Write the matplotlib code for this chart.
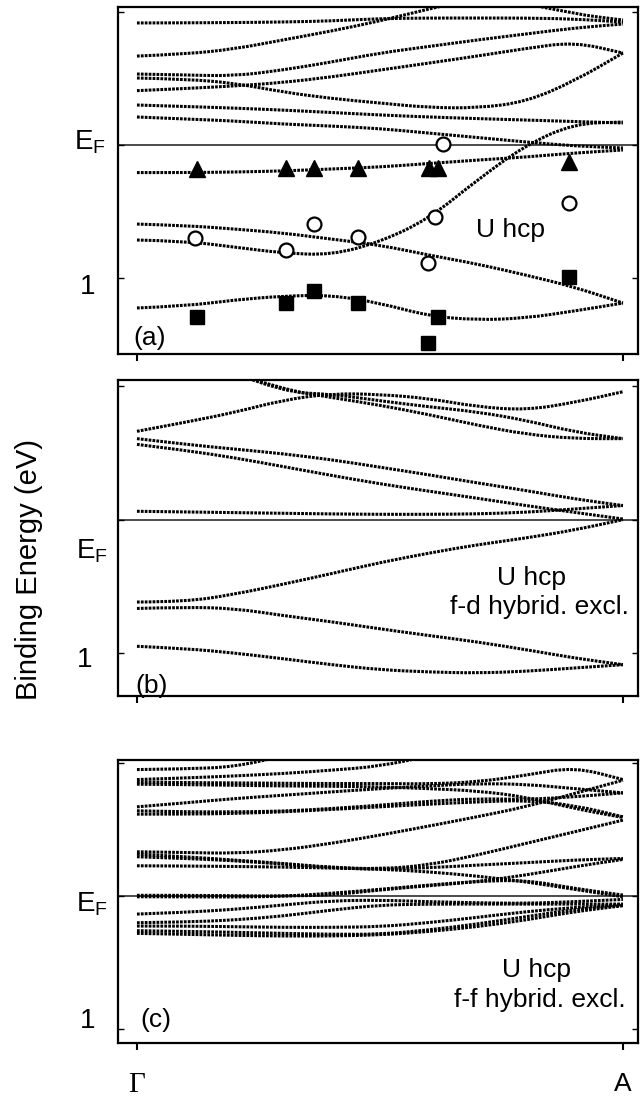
import numpy as np
import matplotlib
matplotlib.use('Agg')
import matplotlib.pyplot as plt
from matplotlib.path import Path
from matplotlib.patches import PathPatch

plt.rcParams['font.family'] = ['Liberation Sans', 'DejaVu Sans']
plt.rcParams['mathtext.fontset'] = 'custom'
plt.rcParams['mathtext.rm'] = 'Liberation Sans'

nan = float('nan')

# k-path from Gamma (0) to A (1)
K = [0.0, 0.1, 0.2, 0.3, 0.4, 0.5, 0.6, 0.7, 0.8, 0.9, 1.0]

# binding energies (eV, relative to E_F; positive = below E_F)
BANDS_A = [
    [-0.914, -0.915, -0.917, -0.921, -0.929, -0.947, -0.951, -0.951, -0.951, -0.944, -0.921],
    [-0.665, -0.680, -0.718, -0.786, -0.853, -0.929, -1.019, -1.10, nan, nan, nan],
    [nan, nan, nan, nan, nan, nan, nan, nan, -1.06, -0.981, -0.936],
    [-0.530, -0.523, -0.515, -0.560, -0.620, -0.688, -0.737, -0.786, -0.831, -0.876, -0.906],
    [-0.405, -0.421, -0.440, -0.466, -0.508, -0.560, -0.612, -0.665, -0.722, -0.771, -0.688],
    [-0.500, -0.492, -0.462, -0.395, -0.346, -0.312, -0.278, -0.274, -0.320, -0.477, -0.688],
    [-0.297, -0.286, -0.274, -0.259, -0.241, -0.222, -0.207, -0.195, -0.184, -0.173, -0.162],
    [-0.207, -0.192, -0.177, -0.154, -0.139, -0.120, -0.086, -0.053, -0.019, 0.011, 0.026],
    [0.211, 0.211, 0.207, 0.199, 0.184, 0.169, 0.143, 0.117, 0.094, 0.064, 0.041],
    [0.718, 0.726, 0.771, 0.816, 0.831, 0.733, 0.560, 0.267, 0.004, -0.158, -0.169],
    [0.598, 0.609, 0.635, 0.665, 0.711, 0.756, 0.831, 0.898, 0.981, 1.071, 1.192],
    [1.229, 1.214, 1.169, 1.139, 1.132, 1.192, 1.289, 1.320, 1.305, 1.252, 1.192],
]

BANDS_B = [
    [-0.663, -0.731, -0.804, -0.897, -0.947, -0.940, -0.910, -0.847, -0.822, -0.879, -0.960],
    [nan, nan, -1.10, -0.977, -0.917, -0.859, -0.789, -0.709, -0.641, -0.608, -0.608],
    [nan, nan, -1.10, -0.957, -0.942, -0.892, -0.847, -0.809, -0.746, -0.658, -0.608],
    [-0.608, -0.565, -0.530, -0.495, -0.450, -0.394, -0.337, -0.276, -0.219, -0.156, -0.106],
    [-0.565, -0.520, -0.465, -0.399, -0.332, -0.269, -0.214, -0.161, -0.106, -0.055, -0.005],
    [-0.063, -0.058, -0.053, -0.048, -0.043, -0.040, -0.040, -0.043, -0.055, -0.080, -0.106],
    [0.618, 0.616, 0.560, 0.485, 0.405, 0.322, 0.251, 0.188, 0.138, 0.078, 0.000],
    [0.666, 0.656, 0.666, 0.719, 0.766, 0.819, 0.869, 0.917, 0.975, 1.038, 1.088],
    [0.950, 0.967, 1.000, 1.043, 1.088, 1.126, 1.143, 1.151, 1.138, 1.113, 1.088],
]

BANDS_C = [
    [-0.948, -0.953, -0.968, -1.05, nan, nan, nan, nan, nan, nan, nan],
    [-0.873, -0.885, -0.900, -0.918, -0.943, -0.973, -1.05, nan, nan, nan, nan],
    [-0.855, -0.850, -0.848, -0.845, -0.843, -0.843, -0.840, -0.855, -0.905, -0.968, -0.873],
    [-0.838, -0.835, -0.830, -0.825, -0.823, -0.818, -0.805, -0.788, -0.743, -0.655, -0.588],
    [-0.668, -0.698, -0.730, -0.755, -0.780, -0.805, -0.825, -0.843, -0.838, -0.805, -0.773],
    [-0.638, -0.630, -0.630, -0.635, -0.655, -0.680, -0.710, -0.730, -0.723, -0.743, -0.773],
    [-0.613, -0.613, -0.618, -0.630, -0.648, -0.668, -0.688, -0.705, -0.718, -0.680, -0.593],
    [-0.330, -0.325, -0.318, -0.343, -0.393, -0.455, -0.523, -0.593, -0.668, -0.768, -0.868],
    [-0.313, -0.293, -0.268, -0.243, -0.213, -0.200, -0.230, -0.305, -0.393, -0.480, -0.568],
    [-0.293, -0.280, -0.263, -0.238, -0.210, -0.198, -0.210, -0.230, -0.248, -0.268, -0.280],
    [-0.225, -0.223, -0.220, -0.215, -0.208, -0.200, -0.180, -0.148, -0.105, -0.048, 0.008],
    [-0.003, -0.003, 0.000, 0.003, -0.005, -0.043, -0.075, -0.105, -0.155, -0.218, -0.273],
    [0.008, 0.008, 0.010, 0.005, -0.018, -0.048, -0.080, -0.108, -0.118, -0.055, -0.005],
    [0.138, 0.125, 0.103, 0.070, 0.038, 0.033, 0.045, 0.053, 0.058, 0.045, 0.028],
    [0.203, 0.198, 0.183, 0.153, 0.108, 0.070, 0.063, 0.063, 0.063, 0.063, 0.063],
    [0.228, 0.228, 0.233, 0.238, 0.238, 0.233, 0.203, 0.163, 0.120, 0.088, 0.068],
    [0.263, 0.268, 0.275, 0.283, 0.290, 0.290, 0.258, 0.213, 0.158, 0.103, 0.073],
    [0.283, 0.290, 0.298, 0.303, 0.303, 0.295, 0.270, 0.233, 0.183, 0.120, 0.075],
]

# experimental points (panel a)
TRI_X = [0.124, 0.307, 0.365, 0.454, 0.600, 0.619, 0.889]
TRI_E = [0.182, 0.179, 0.179, 0.179, 0.179, 0.179, 0.129]
CIRC_X = [0.120, 0.307, 0.365, 0.454, 0.629, 0.614, 0.598, 0.889]
CIRC_E = [0.703, 0.793, 0.598, 0.695, -0.004, 0.545, 0.891, 0.440]
SQ_X = [0.124, 0.307, 0.365, 0.454, 0.619, 0.598, 0.889]
SQ_E = [1.297, 1.192, 1.102, 1.192, 1.297, 1.492, 0.996]

W, H = 642, 1098
fig = plt.figure(figsize=(W / 100, H / 100), dpi=100)


def make_ax(top_px, bot_px, left_px=118, right_px=638):
    return fig.add_axes([left_px / W, 1 - bot_px / H,
                         (right_px - left_px) / W, (bot_px - top_px) / H])


axA = make_ax(7, 354)
axB = make_ax(380, 696)
axC = make_ax(760, 1043)

YLIMS = [(1.575, -1.034), (1.323, -1.048), (1.107, -1.020)]
XLIM = (-0.039, 1.031)


def draw_band(ax, xs, ys):
    """Draw a band as a smooth (quadratic Bezier) dotted path through the read points."""
    pts = [(x, y) for x, y in zip(xs, ys) if not np.isnan(y)]
    if len(pts) < 2:
        return
    verts = [pts[0]]
    codes = [Path.MOVETO]
    for i in range(1, len(pts) - 1):
        mx = 0.5 * (pts[i][0] + pts[i + 1][0])
        my = 0.5 * (pts[i][1] + pts[i + 1][1])
        verts += [pts[i], (mx, my)]
        codes += [Path.CURVE3, Path.CURVE3]
    verts.append(pts[-1])
    codes.append(Path.LINETO)
    patch = PathPatch(Path(verts, codes), facecolor='none', edgecolor='black',
                      lw=2.2, linestyle=(0, (0.9, 0.38)), capstyle='butt',
                      zorder=2)
    ax.add_patch(patch)


for ax, bands, yl in zip([axA, axB, axC], [BANDS_A, BANDS_B, BANDS_C], YLIMS):
    ax.axhline(0, color='#1a1a1a', lw=1.1, zorder=1)
    for b in bands:
        draw_band(ax, K, b)
    ax.set_xlim(*XLIM)
    ax.set_ylim(*yl)
    for s in ax.spines.values():
        s.set_linewidth(1.6)
    ax.set_yticks([-1, 0, 1])
    ax.set_yticklabels([])
    ax.tick_params(axis='y', direction='in', left=True, right=True,
                   length=4, width=1.0)
    ax.set_xticks([0, 1])
    ax.tick_params(axis='x', direction='out', bottom=True, top=False,
                   length=5, width=1.5)

axA.set_xticklabels([])
axB.set_xticklabels([])

# markers
axA.plot(TRI_X, TRI_E, linestyle='none', marker='^', ms=11.5, color='black', zorder=4)
axA.plot(CIRC_X, CIRC_E, linestyle='none', marker='o', ms=10, mfc='white',
         mec='black', mew=1.6, zorder=4)
axA.plot(SQ_X, SQ_E, linestyle='none', marker='s', ms=10, color='black', zorder=4)

# y tick labels (offsets as in the reference)
EF = r'$\mathregular{E_F}$'
label_specs = [
    (axA, [(0, EF, -12, 2), (1, '1', -23, -9)]),
    (axB, [(0, EF, -10, -32), (1, '1', -26, -7)]),
    (axC, [(0, EF, -10, -9), (1, '1', -23, 8)]),
]
for ax, specs in label_specs:
    for yv, txt, dx, dy in specs:
        ax.annotate(txt, xy=(0, yv), xycoords=ax.get_yaxis_transform(),
                    xytext=(dx, dy), textcoords='offset pixels',
                    ha='right', va='center', fontsize=20, annotation_clip=False)

# panel texts
axA.text(0.769, 0.643, 'U hcp', ha='center', va='center', fontsize=19)
axB.text(0.812, 0.439, 'U hcp', ha='center', va='center', fontsize=19)
axB.text(1.013, 0.656, 'f-d hybrid. excl.', ha='right', va='center', fontsize=19)
axC.text(0.822, 0.559, 'U hcp', ha='center', va='center', fontsize=19)
axC.text(1.006, 0.784, 'f-f hybrid. excl.', ha='right', va='center', fontsize=19)

axA.text(0.027, 1.455, '(a)', ha='center', va='center', fontsize=19)
axB.text(0.031, 1.249, '(b)', ha='center', va='center', fontsize=19)
axC.text(0.039, 0.933, '(c)', ha='center', va='center', fontsize=19)

# x tick labels
axC.set_xticklabels(['Γ', 'A'])
axC.tick_params(axis='x', pad=16)
lbls = axC.get_xticklabels()
lbls[0].set_fontfamily(['Liberation Serif', 'DejaVu Serif'])
lbls[0].set_fontsize(21)
lbls[1].set_fontsize(19)

fig.text(29 / W, 1 - 570 / H, 'Binding Energy (eV)', rotation=90,
         ha='center', va='center', fontsize=21)

fig.savefig('out.png', dpi=100)
